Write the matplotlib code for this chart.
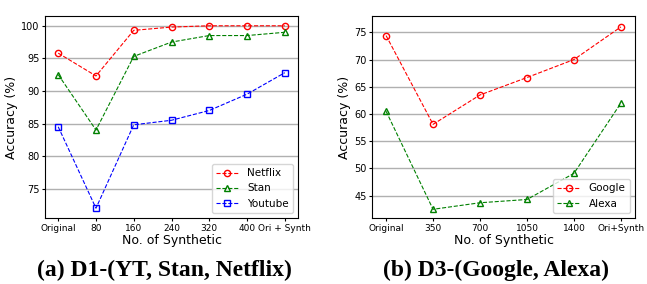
import matplotlib.pyplot as plt
import numpy as np

# panel (a)
labels_a = ["Original", "80", "160", "240", "320", "400", "Ori + Synth"]
netflix = [95.8, 92.3, 99.3, 99.8, 100.0, 100.0, 100.0]
stan = [92.5, 84.0, 95.3, 97.5, 98.5, 98.5, 99.0]
youtube = [84.5, 72.0, 84.8, 85.5, 87.0, 89.5, 92.8]

# panel (b)
labels_b = ["Original", "350", "700", "1050", "1400", "Ori+Synth"]
google = [74.4, 58.1, 63.5, 66.7, 70.0, 76.0]
alexa = [60.5, 42.5, 43.7, 44.3, 49.1, 62.0]

fig = plt.figure(figsize=(6.47, 2.84), dpi=100)
ax1 = fig.add_axes([45 / 647, 1 - 218 / 284, 253 / 647, 202 / 284])
ax2 = fig.add_axes([372 / 647, 1 - 218 / 284, 263 / 647, 202 / 284])

kw = dict(linestyle="--", linewidth=0.8, markersize=4.5, markerfacecolor="none")

x = np.arange(len(labels_a))
ax1.plot(x, netflix, marker="o", color="red", label="Netflix", **kw)
ax1.plot(x, stan, marker="^", color="green", label="Stan", **kw)
ax1.plot(x, youtube, marker="s", color="blue", label="Youtube", **kw)
ax1.set_ylim(70.5, 101.5)
ax1.set_yticks([75, 80, 85, 90, 95, 100])
ax1.set_xticks(x)
ax1.set_xticklabels(labels_a)
ax1.set_xlim(-0.35, 6.35)
ax1.legend(loc="lower right", fontsize=7.5, handlelength=2.2)

x = np.arange(len(labels_b))
ax2.plot(x, google, marker="o", color="red", label="Google", **kw)
ax2.plot(x, alexa, marker="^", color="green", label="Alexa", **kw)
ax2.set_ylim(40.9, 78)
ax2.set_yticks([45, 50, 55, 60, 65, 70, 75])
ax2.set_xticks(x)
ax2.set_xticklabels(labels_b)
ax2.set_xlim(-0.3, 5.3)
ax2.legend(loc="lower right", fontsize=7.5, handlelength=2.2, borderaxespad=0.5)

for ax in (ax1, ax2):
    ax.grid(axis="y", color="#b0b0b0", linewidth=1)
    ax.set_axisbelow(True)
    ax.tick_params(axis="x", labelsize=6.5, length=2, pad=2)
    ax.tick_params(axis="y", labelsize=7, length=2, pad=2)
    ax.set_xlabel("No. of Synthetic", fontsize=9, labelpad=1)
    ax.set_ylabel("Accuracy (%)", fontsize=9, labelpad=2)

fig.text(164 / 647, 1 - 270 / 284, "(a) D1-(YT, Stan, Netflix)", ha="center",
         va="center", fontsize=17, fontweight="bold", family="Liberation Serif")
fig.text(496 / 647, 1 - 270 / 284, "(b) D3-(Google, Alexa)", ha="center",
         va="center", fontsize=17, fontweight="bold", family="Liberation Serif")

fig.savefig("out.png", dpi=100)
